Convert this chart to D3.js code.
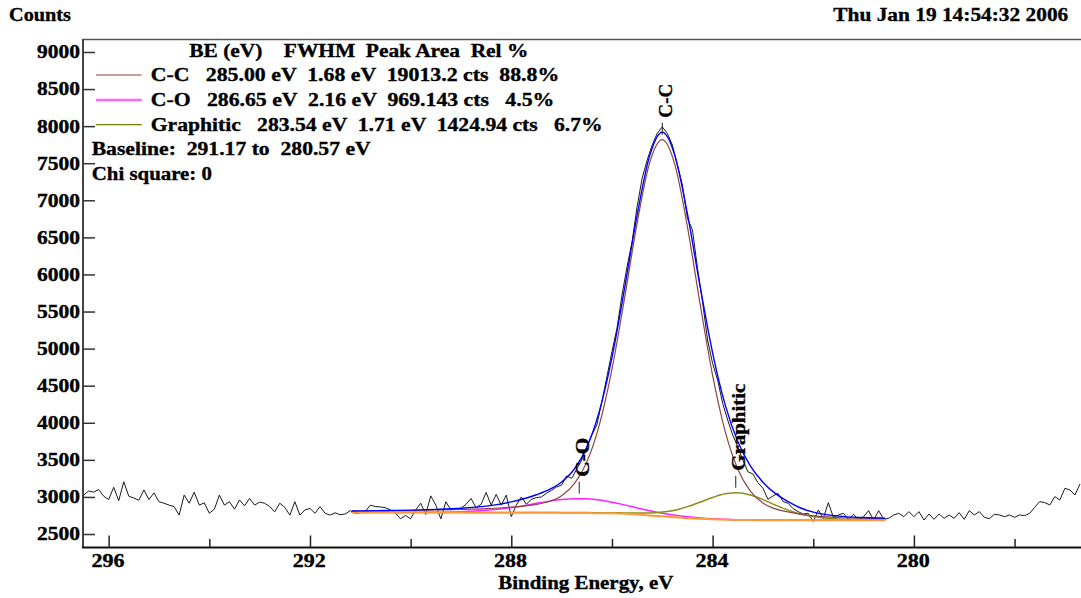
<!DOCTYPE html>
<html><head><meta charset="utf-8">
<script src="https://cdn.jsdelivr.net/npm/d3@7"></script>
<style>
html,body{margin:0;padding:0;background:#fff;}
svg{display:block;}
text{font-family:"Liberation Serif","Times New Roman",serif;font-weight:bold;fill:#000;stroke:#000;stroke-width:0.35px;white-space:pre;}
</style></head><body>
<svg id="chart" width="1081" height="598"></svg>
<script>
// ---------- data ----------
const rawStartBE = 296.5;   // eV, first channel
const rawStepBE = 0.1;      // eV per channel (decreasing BE)
const rawCounts = [
3020,3080,3065,3100,3010,2965,3130,2950,3205,3010,
2985,2955,3095,2965,3055,2935,2915,2890,2870,2755,
3025,2915,3065,2890,2920,2780,2835,3025,2890,2935,
2835,2960,2880,2980,2890,2930,2915,2870,2800,2915,
2860,2755,2935,2755,2825,2845,2780,2870,2780,2755,
2786,2760,2770,2815,2780,2786,2805,2890,2870,2865,
2855,2825,2780,2705,2750,2705,2825,2915,2765,3015,
2890,2705,2935,2825,2840,2845,2900,2980,2855,2900,
3060,2890,3035,2890,3025,2735,2890,3000,2900,2970,
2990,3000,3050,3090,3135,3160,3285,3250,3375,3498,
3677,3835,3970,4284,4621,4959,5274,5723,6105,6442,
6914,7297,7543,7746,7904,7990,7904,7746,7476,7206,
6757,6600,6083,5633,5116,4802,4577,4262,4037,3835,
3677,3498,3340,3310,3193,3117,2968,3013,3049,2937,
2914,2842,2802,2770,2779,2667,2824,2712,2923,2725,
2757,2779,2698,2766,2689,2734,2815,2689,2815,2698,
2712,2757,2779,2734,2802,2734,2802,2689,2770,2698,
2770,2712,2757,2712,2788,2698,2815,2757,2802,2725,
2707,2766,2757,2734,2757,2725,2757,2748,2779,2860,
2937,2923,2892,3004,2959,3117,3094,3027,3175
];

const fitBE = [291.17,291.0,290.5,290.0,289.5,289.0,288.5,288.0,287.75,287.5,287.25,287.0,286.75,286.5,286.25,286.0,285.75,285.5,285.25,285.0,284.75,284.5,284.25,284.0,283.75,283.5,283.25,283.0,282.75,282.5,282.25,282.0,281.5,281.0,280.57];
const baselineCounts = [2790,2790,2790,2789,2789,2789,2788,2788,2787,2787,2786,2785,2784,2783,2781,2779,2773,2763,2751,2738,2726,2714,2705,2698,2693,2690,2688,2687,2687,2686,2686,2686,2685,2685,2685];
const ccCounts = [2808,2809,2813,2817,2824,2832,2843,2862,2877,2899,2938,3017,3175,3471,3973,4721,5677,6692,7507,7818,7482,6643,5609,4640,3885,3378,3079,2919,2839,2798,2766,2744,2723,2713,2705];
const coCounts = [2792,2792,2793,2793,2795,2802,2819,2856,2882,2914,2942,2965,2977,2974,2959,2929,2893,2852,2814,2780,2753,2732,2717,2706,2699,2694,2692,2690,2690,2688,2688,2688,2687,2686,2686];
const grCounts = [2791,2791,2791,2790,2790,2791,2790,2791,2790,2790,2790,2790,2789,2789,2788,2788,2785,2782,2783,2796,2822,2869,2929,2993,3043,3056,3025,2964,2889,2822,2769,2736,2702,2693,2691];
const envelopeCounts = [2811,2812,2817,2822,2832,2847,2876,2933,2975,3030,3098,3202,3373,3668,4158,4880,5809,6800,7602,7918,7605,6816,5845,4943,4241,3749,3420,3199,3044,2937,2851,2796,2742,2722,2712];

const xTickValues = [296,294,292,290,288,286,284,282,280,278];
const xTickLabeled = [296,292,288,284,280];
const yTickValues = [2500,3000,3500,4000,4500,5000,5500,6000,6500,7000,7500,8000,8500,9000];

const legendHeader = "BE (eV)    FWHM  Peak Area  Rel %";
const legendTexts = [
  "C-C   285.00 eV  1.68 eV  19013.2 cts  88.8%",
  "C-O   286.65 eV  2.16 eV  969.143 cts   4.5%",
  "Graphitic   283.54 eV  1.71 eV  1424.94 cts   6.7%"
];
const infoTexts = ["Baseline:  291.17 to  280.57 eV","Chi square: 0"];
const peakNames = ["C-C","C-O","Graphitic"];
const peakBE = [285.00, 286.65, 283.54];
const peakTop = [7818, 2977, 3056];

// ---------- styles / layout ----------
const colors = {raw:"#1a1a1a", cc:"#8e4444", co:"#ff22ff", gr:"#8c8c1a", env:"#0000ff", base:"#ff9a3c"};
const svg = d3.select("#chart");
const x = d3.scaleLinear().domain([296.51, 276.68]).range([83, 1081]);
const y = d3.scaleLinear().domain([2325, 9175]).range([547, 39]);

// frame
svg.append("line").attr("x1",83).attr("x2",1081).attr("y1",39.5).attr("y2",39.5).attr("stroke","#555").attr("stroke-width",1.5);
svg.append("line").attr("x1",83).attr("x2",83).attr("y1",39).attr("y2",548).attr("stroke","#444").attr("stroke-width",2);
svg.append("line").attr("x1",82).attr("x2",1081).attr("y1",547.5).attr("y2",547.5).attr("stroke","#111").attr("stroke-width",2);

// y axis
const yAxis = d3.axisLeft(y).tickValues(yTickValues).tickSizeInner(-12).tickSizeOuter(0).tickPadding(3).tickFormat(d3.format("d"));
const gy = svg.append("g").attr("transform","translate(83,0)").call(yAxis);
gy.select(".domain").remove();
gy.selectAll(".tick line").attr("stroke","#333").attr("stroke-width",1.5);
gy.selectAll(".tick text").attr("font-size",17.8).attr("dy","0.33em")
  .attr("textLength",43).attr("lengthAdjust","spacingAndGlyphs").attr("font-family",null);

// x axis
const xAxis = d3.axisBottom(x).tickValues(xTickValues).tickSizeOuter(0).tickSizeInner(-11)
  .tickFormat(d => xTickLabeled.includes(d) ? String(d) : "");
const gx = svg.append("g").attr("transform","translate(0,547)").call(xAxis);
gx.select(".domain").remove();
gx.selectAll(".tick line").attr("stroke","#222").attr("stroke-width",1.5)
  .attr("y2", d => xTickLabeled.includes(d) ? -11.5 : -8);
gx.selectAll(".tick text").attr("font-size",17.8).attr("y",19.7).attr("dy",0).attr("dx",-1.2)
  .attr("textLength",33).attr("lengthAdjust","spacingAndGlyphs").attr("font-family",null);

// raw data
const rawLine = d3.line().x((d,i)=>x(rawStartBE - i*rawStepBE)).y(d=>y(d));
svg.append("path").datum(rawCounts).attr("d",rawLine).attr("fill","none").attr("stroke",colors.raw).attr("stroke-width",1);

// fit curves
const fitLine = d3.line().x((d,i)=>x(fitBE[i])).y(d=>y(d)).curve(d3.curveMonotoneX);
function drawFit(arr,color,w){
  svg.append("path").datum(arr).attr("d",fitLine).attr("fill","none").attr("stroke",color).attr("stroke-width",w);
}
drawFit(coCounts, colors.co, 1.5);
drawFit(grCounts, colors.gr, 1.5);
drawFit(ccCounts, colors.cc, 1.2);
drawFit(baselineCounts, colors.base, 2);
drawFit(envelopeCounts, colors.env, 1.4);

// peak labels
const peakLens = [34,39,87];
peakNames.forEach((n,i)=>{
  const px = x(peakBE[i]), py = y(peakTop[i]);
  svg.append("line").attr("x1",px).attr("x2",px).attr("y1",py-5).attr("y2",py-17).attr("stroke","#222").attr("stroke-width",1);
  svg.append("text").attr("transform",`translate(${px+3},${py-22}) rotate(-90)`)
    .attr("dy","0.35em").attr("font-size",18).attr("textLength",peakLens[i]).attr("lengthAdjust","spacingAndGlyphs").text(n);
});

// top texts
svg.append("text").attr("x",9).attr("y",20.5).attr("font-size",19.5).attr("textLength",62).attr("lengthAdjust","spacingAndGlyphs").text("Counts");
svg.append("text").attr("x",833.3).attr("y",20.5).attr("font-size",19.5).attr("textLength",235).attr("lengthAdjust","spacingAndGlyphs").text("Thu Jan 19 14:54:32 2006");
svg.append("text").attr("x",498.3).attr("y",589).attr("font-size",18.5).attr("textLength",175).attr("lengthAdjust","spacingAndGlyphs").text("Binding Energy, eV");

// legend
const legend = svg.append("g");
legend.append("text").attr("x",189.3).attr("y",57).attr("font-size",18.5).attr("textLength",339).attr("lengthAdjust","spacingAndGlyphs").text(legendHeader);
const rowY = [81, 106, 130.7];
const rowW = [408.6, 403.6, 452];
const rowColor = [colors.cc, "#ff66ff", "#7d7d00"];
const rowStroke = [1.2, 2.5, 1.2];
legendTexts.forEach((t,i)=>{
  legend.append("line").attr("x1",96).attr("x2",141.7).attr("y1",rowY[i]-6).attr("y2",rowY[i]-6).attr("stroke",rowColor[i]).attr("stroke-width",rowStroke[i]);
  legend.append("text").attr("x",150.7).attr("y",rowY[i]).attr("font-size",18.5).attr("textLength",rowW[i]).attr("lengthAdjust","spacingAndGlyphs").text(t);
});
const infoY = [155, 180], infoW = [279, 120.3];
infoTexts.forEach((t,i)=>{
  legend.append("text").attr("x",91.7).attr("y",infoY[i]).attr("font-size",18.5).attr("textLength",infoW[i]).attr("lengthAdjust","spacingAndGlyphs").text(t);
});
</script>
</body></html>
